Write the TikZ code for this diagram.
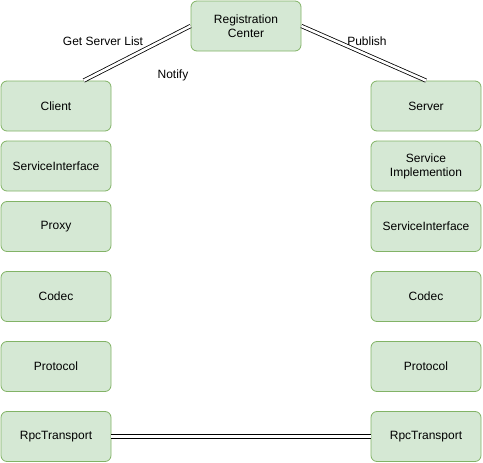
\documentclass[tikz,border=0pt]{standalone}
\usepackage{fontspec}
\setmainfont{Liberation Sans}
\usetikzlibrary{calc}
\definecolor{boxfill}{HTML}{D5E8D4}
\definecolor{boxdraw}{HTML}{82B366}
\begin{document}
\begin{tikzpicture}[x=1pt,y=-1pt,
  box/.style={draw=boxdraw,fill=boxfill,rounded corners=6pt,line width=0.8pt,
    minimum width=110pt,minimum height=50pt,inner sep=0pt,align=center,
    font=\fontsize{12}{14}\selectfont},
  lnk/.style={double,double distance=2.6pt,line width=0.8pt,draw=black},
  lbl/.style={font=\fontsize{12}{14}\selectfont,inner sep=0pt}]
\useasboundingbox (0,0) rectangle (483,463);
\node[box] (rc) at (246,26) {Registration\\Center};
\node[box] (client) at (56,106) {Client};
\node[box] (lsi) at (56,166) {ServiceInterface};
\node[box] (proxy) at (56,226.5) {Proxy};
\node[box] (lcodec) at (56,296.5) {Codec};
\node[box] (lproto) at (56,366.5) {Protocol};
\node[box] (lrpc) at (56,436.5) {RpcTransport};
\node[box] (server) at (426,106) {Server};
\node[box] (simpl) at (426,166) {Service\\Implemention};
\node[box] (rsi) at (426,226.5) {ServiceInterface};
\node[box] (rcodec) at (426,296.5) {Codec};
\node[box] (rproto) at (426,366.5) {Protocol};
\node[box] (rrpc) at (426,436.5) {RpcTransport};
\draw[lnk] ($(client.north west)!0.75!(client.north east)$) -- (rc.west);
\draw[lnk] (rc.east) -- (server.north);
\draw[lnk] (lrpc.east) -- (rrpc.west);
\node[lbl] (gsl) at (103,41) {Get Server List};
\node[lbl] (pub) at (367,41) {Publish};
\node[lbl] (notify) at (173,75) {Notify};
\end{tikzpicture}
\end{document}
